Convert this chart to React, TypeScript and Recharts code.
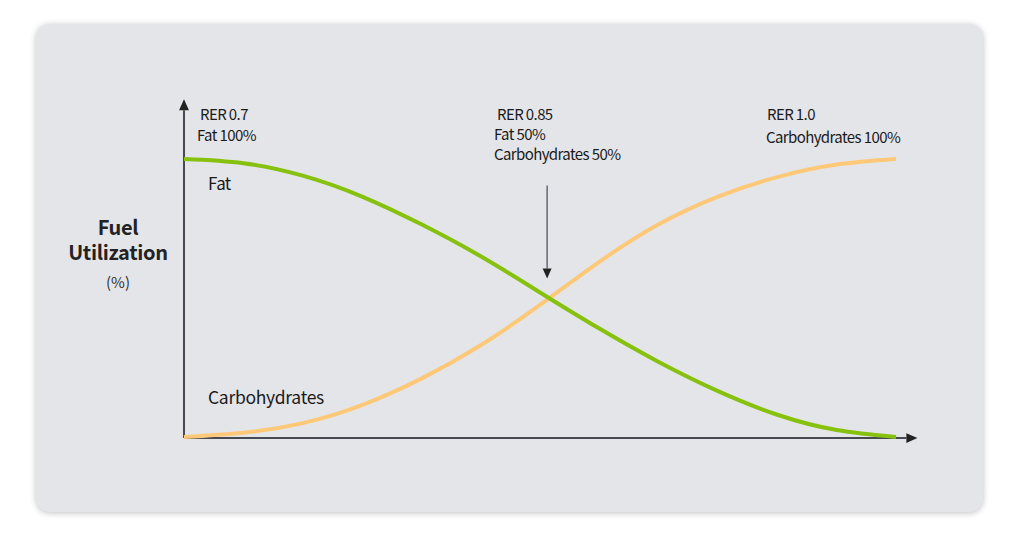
import { LineChart, Line, XAxis, YAxis, ReferenceLine } from "recharts";

// RER on the x axis, % of fuel on the y axis
const rer = [0.7, 0.725, 0.75, 0.775, 0.8, 0.825, 0.85, 0.875, 0.9, 0.925, 0.95, 0.975, 1.0];
const fat = [100, 98.5, 94, 86.5, 76.5, 65, 52, 39, 27, 16.5, 8, 2.5, 0];
const carbohydrates = [0, 1.5, 5, 11.5, 21, 33, 47.5, 63, 76.5, 86.5, 93.5, 98, 100];

const data = rer.map((r, i) => ({ rer: r, fat: fat[i], carbs: carbohydrates[i] }));

const FONT = '"Noto Sans CJK KR", "Noto Sans", sans-serif';
const AXIS = "#474a52";

type Seg = { x1?: number; y1?: number; x2?: number; y2?: number };

function arrowShape(width: number, head: number) {
  return (p: Seg) => {
    const x1 = p.x1 ?? 0;
    const y1 = p.y1 ?? 0;
    const x2 = p.x2 ?? 0;
    const y2 = p.y2 ?? 0;
    const a = Math.atan2(y2 - y1, x2 - x1);
    const bx = x2 - Math.cos(a) * head;
    const by = y2 - Math.sin(a) * head;
    const nx = -Math.sin(a) * head * 0.45;
    const ny = Math.cos(a) * head * 0.45;
    return (
      <g>
        <line x1={x1} y1={y1} x2={bx} y2={by} stroke={AXIS} strokeWidth={width} />
        <polygon
          points={`${x2},${y2} ${bx + nx},${by + ny} ${bx - nx},${by - ny}`}
          fill="#222"
        />
      </g>
    );
  };
}

const txt = (left: number, top: number, size: number, extra: object = {}) => ({
  position: "absolute" as const,
  left,
  top,
  fontSize: size,
  fontFamily: FONT,
  color: "#1a1a1a",
  letterSpacing: -0.6,
  whiteSpace: "nowrap" as const,
  lineHeight: 1,
  ...extra,
});

export default function App() {
  return (
    <div style={{ position: "absolute", left: 0, top: 0, width: 1024, height: 551, background: "#fff" }}>
      <div
        style={{
          position: "absolute",
          left: 36,
          top: 24,
          width: 947,
          height: 488,
          borderRadius: 14,
          background: "#e4e5e9",
          boxShadow: "0 1px 6px rgba(0,0,0,0.25)",
        }}
      />
      <div style={{ position: "absolute", left: 0, top: 0 }}>
        <LineChart
          width={1024}
          height={551}
          data={data}
          margin={{ top: 159, right: 128, bottom: 114, left: 184 }}
        >
          <XAxis dataKey="rer" type="number" domain={[0.7, 1.0]} hide />
          <YAxis type="number" domain={[0, 100]} hide />
          <ReferenceLine
            segment={[{ x: 0.7, y: -0.4 }, { x: 0.7, y: 121.5 }]}
            ifOverflow="visible"
            shape={arrowShape(2, 11)}
          />
          <ReferenceLine
            segment={[{ x: 0.7, y: -0.4 }, { x: 1.009, y: -0.4 }]}
            ifOverflow="visible"
            shape={arrowShape(2, 11)}
          />
          <ReferenceLine
            segment={[{ x: 0.853, y: 90.5 }, { x: 0.853, y: 57 }]}
            ifOverflow="visible"
            shape={arrowShape(1.2, 10)}
          />
          <Line
            dataKey="carbs"
            type="natural"
            stroke="#fdc979"
            strokeWidth={4}
            dot={false}
            isAnimationActive={false}
          />
          <Line
            dataKey="fat"
            type="natural"
            stroke="#86c10e"
            strokeWidth={4}
            dot={false}
            isAnimationActive={false}
          />
        </LineChart>
      </div>

      <div style={txt(200, 106, 15)}>RER 0.7</div>
      <div style={txt(197, 127, 15)}>Fat 100%</div>
      <div style={txt(208, 174, 17)}>Fat</div>
      <div style={txt(208, 388, 17.5, { letterSpacing: -0.3 })}>Carbohydrates</div>

      <div style={txt(497, 106, 15)}>RER 0.85</div>
      <div style={txt(494, 126, 15)}>Fat 50%</div>
      <div style={txt(494, 146, 15)}>Carbohydrates 50%</div>

      <div style={txt(767, 106, 15)}>RER 1.0</div>
      <div style={txt(766, 129, 15)}>Carbohydrates 100%</div>

      <div
        style={{
          position: "absolute",
          left: 48,
          top: 217,
          width: 140,
          textAlign: "center",
          fontFamily: FONT,
          color: "#222",
        }}
      >
        <div style={{ fontSize: 20, fontWeight: 700, lineHeight: "20px", letterSpacing: -0.3 }}>Fuel</div>
        <div style={{ fontSize: 20, fontWeight: 700, lineHeight: "20px", letterSpacing: -0.3, marginTop: 5 }}>
          Utilization
        </div>
        <div style={{ fontSize: 15, lineHeight: "15px", marginTop: 12, color: "#333" }}>(%)</div>
      </div>
    </div>
  );
}
